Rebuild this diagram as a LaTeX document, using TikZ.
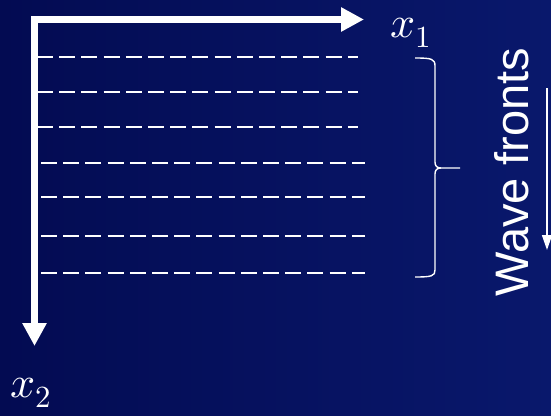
\documentclass[tikz,border=0pt]{standalone}
\usepackage{fontspec}
\setmainfont{Liberation Sans}
\usepackage{unicode-math}
\setmathfont{Latin Modern Math}
\usetikzlibrary{arrows.meta}
\definecolor{bgL}{RGB}{3,11,82}
\definecolor{bgR}{RGB}{9,24,108}
\tikzset{
  axis/.style={draw=white, line width=7.5pt, line join=miter,
    {Triangle[length=23pt,width=23pt]}-{Triangle[length=23pt,width=23pt]}},
  front/.style={draw=white, line width=2pt, dash pattern=on 16pt off 6.2pt},
  brace/.style={draw=white, line width=1.4pt},
  lbl/.style={text=white, inner sep=0pt, font=\fontsize{44}{52}\selectfont},
  wf/.style={text=white, inner sep=0pt, font=\fontsize{47}{56}\selectfont},
  dirarrow/.style={draw=white, line width=1.5pt, -{Triangle[length=15pt,width=10pt]}}
}
\begin{document}
\begin{tikzpicture}[x=1pt,y=-1pt]
\useasboundingbox (0,0) rectangle (551,415);
\shade[left color=bgL, right color=bgR] (0,0) rectangle (551,415);
% axes
\coordinate (x1tip) at (364,19.5);
\coordinate (origin) at (34.5,19.5);
\coordinate (x2tip) at (34.5,346);
\draw[axis] (x1tip) -- (origin) -- (x2tip);
% wave fronts
\foreach \y in {57,92,126.5}{
  \draw[front] (37,\y) -- (358,\y);
}
\foreach \y in {162.5,197,236,273}{
  \draw[front] (41,\y) -- (365,\y);
}
% brace
\draw[brace] (415,58) .. controls (432,58) and (435,59) .. (435,66) -- (435,162)
  .. controls (435,166) and (437,168) .. (441,168) -- (460,168);
\draw[brace] (441,168) .. controls (437,168) and (435,170) .. (435,174) -- (435,270)
  .. controls (435,276) and (432,277) .. (415,277);
% labels
\node[lbl, anchor=base west] (lx1) at (390,37) {$x_1$};
\node[lbl, anchor=base west] (lx2) at (10,397) {$x_2$};
\node[wf, rotate=90, anchor=base] (wave) at (528,172) {Wave fronts};
% direction arrow
\coordinate (dtop) at (547,88);
\coordinate (dbot) at (547,250);
\draw[dirarrow] (dtop) -- (dbot);
\end{tikzpicture}
\end{document}
